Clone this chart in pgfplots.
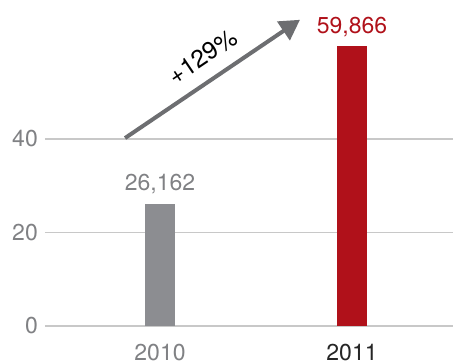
\documentclass[border=0pt]{standalone}
\usepackage{fontspec}
\setmainfont{TeX Gyre Heros}
\usepackage{pgfplots}
\pgfplotsset{compat=1.18}
\usetikzlibrary{arrows.meta}
\definecolor{barGray}{HTML}{8C8D91}
\definecolor{barRed}{HTML}{B0111A}
\definecolor{txtGray}{HTML}{808184}
\definecolor{gridGray}{HTML}{C8C8C8}
\definecolor{arrowGray}{HTML}{6D6E71}
\begin{document}
\begin{tikzpicture}
\useasboundingbox (-45pt,-37pt) rectangle (408pt,326pt);
\begin{axis}[
  scale only axis,
  width=408pt, height=280.5pt,
  xmin=-0.599, xmax=1.526,
  ymin=0, ymax=60,
  clip=false,
  axis line style={draw=none},
  major tick length=0pt,
  tick style={draw=none},
  ytick={0,20,40},
  ymajorgrids,
  grid style={gridGray, line width=1.2pt},
  xtick={0,1},
  xticklabels={\textcolor{txtGray}{2010},\textcolor{black!85}{2011}},
  xticklabel style={inner sep=0pt, anchor=north, yshift=-18pt},
  yticklabel style={color=txtGray, inner sep=0pt, anchor=east, xshift=-7pt},
  /pgf/number format/assume math mode=true,
  font=\fontsize{23}{27}\selectfont,
  ticklabel style={font=\fontsize{23}{27}\selectfont},
]
\addplot[ybar, bar width=30pt, fill=barGray, draw=none,
  nodes near coords={26,162},
  every node near coord/.append style={color=txtGray, inner sep=0pt, anchor=south, yshift=10pt, font=\fontsize{23}{27}\selectfont}]
  coordinates {(0,26.162)};
\addplot[ybar, bar width=30pt, fill=barRed, draw=none,
  nodes near coords={59,866},
  every node near coord/.append style={color=barRed, inner sep=0pt, anchor=south, yshift=9pt, font=\fontsize{23}{27}\selectfont}]
  coordinates {(1,59.866)};
\draw[arrowGray, line width=4pt, -{Triangle[length=20pt,width=22pt]}]
  (axis cs:-0.182,40.2) -- (axis cs:0.729,65.5);
\node[rotate=34, anchor=center, inner sep=0pt, font=\fontsize{24.5}{28}\selectfont]
  at (axis cs:0.222,57.6) {+129\%};
\end{axis}
\end{tikzpicture}
\end{document}
